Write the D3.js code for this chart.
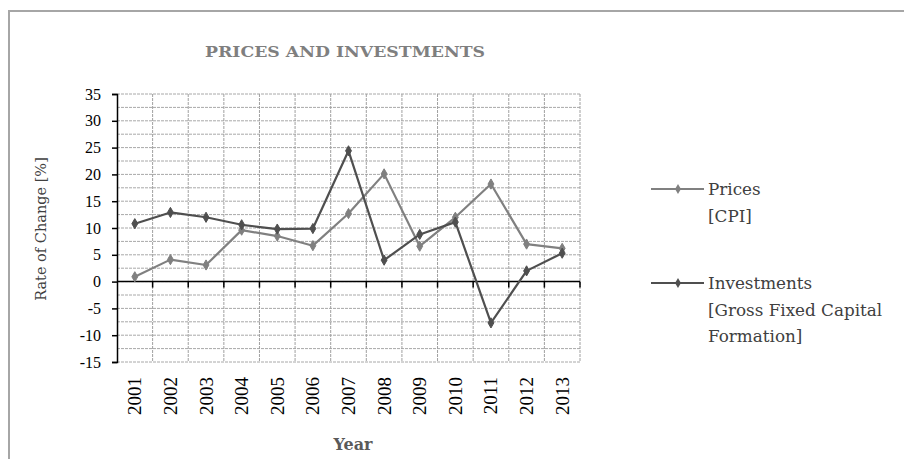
<!DOCTYPE html>
<html>
<head>
<meta charset="utf-8">
<script src="https://cdn.jsdelivr.net/npm/d3@7"></script>
<style>
  html, body { margin: 0; padding: 0; background: #fff; }
  svg { display: block; }
  text { font-family: "DejaVu Serif", "Liberation Serif", serif; }
  .num { font-family: "Liberation Serif", serif; }
</style>
</head>
<body>
<svg id="chart" width="904" height="459"></svg>
<script>
// Annual rates of change, 2001–2013
const years = ["2001","2002","2003","2004","2005","2006","2007","2008","2009","2010","2011","2012","2013"];
const prices = [0.9, 4.1, 3.1, 9.6, 8.5, 6.7, 12.7, 20.1, 6.6, 12.0, 18.2, 7.0, 6.2];
const investments = [10.8, 12.9, 12.0, 10.6, 9.8, 9.9, 24.4, 4.0, 8.8, 11.1, -7.7, 2.0, 5.3];
const yTicks = [-15, -10, -5, 0, 5, 10, 15, 20, 25, 30, 35];
const yMinor = [-12.5, -7.5, -2.5, 2.5, 7.5, 12.5, 17.5, 22.5, 27.5, 32.5];

const seriesList = [
  { name: "Prices", sub: ["[CPI]"], values: prices, color: "#808080" },
  { name: "Investments", sub: ["[Gross Fixed Capital", "Formation]"], values: investments, color: "#4f4f4f" }
];

const svg = d3.select("#chart");

// outer frame
svg.append("path")
  .attr("d", "M9,459 V11 H904")
  .attr("fill", "none")
  .attr("stroke", "#a6a6a6")
  .attr("stroke-width", 2);

const x = d3.scaleBand().domain(years).range([117, 580]).padding(0);
const y = d3.scaleLinear().domain([-15, 35]).range([362, 94]);
const bounds = years.map(d => x(d) + x.bandwidth());

// gridlines
const grid = svg.append("g");
grid.selectAll("line.h")
  .data(yTicks.concat(yMinor))
  .join("line")
  .attr("x1", 117).attr("x2", 580)
  .attr("y1", d => y(d)).attr("y2", d => y(d))
  .attr("stroke", "#a8a8a8")
  .attr("stroke-width", 1)
  .attr("stroke-dasharray", "3,1");
grid.selectAll("line.v")
  .data(bounds)
  .join("line")
  .attr("x1", d => d).attr("x2", d => d)
  .attr("y1", y(35)).attr("y2", y(-15))
  .attr("stroke", "#a0a0a0")
  .attr("stroke-width", 1)
  .attr("stroke-dasharray", "3,1");

// y axis
const yAxis = svg.append("g")
  .attr("transform", "translate(117,0)")
  .call(d3.axisLeft(y).tickValues(yTicks).tickSize(5).tickPadding(11).tickFormat(d => String(d)));
yAxis.select(".domain").attr("stroke", "#000").attr("stroke-width", 1.5);
yAxis.selectAll(".tick line").attr("stroke", "#000").attr("stroke-width", 1.5);
yAxis.selectAll(".tick text")
  .attr("class", "num")
  .attr("font-size", 16)
  .attr("font-family", null)
  .attr("fill", "#000");

// zero line with category tick marks
const zero = svg.append("g").attr("transform", `translate(0,${y(0)})`);
zero.append("line")
  .attr("x1", 117).attr("x2", 580)
  .attr("stroke", "#000").attr("stroke-width", 1.5);
zero.selectAll("line.t")
  .data(bounds)
  .join("line")
  .attr("x1", d => d).attr("x2", d => d)
  .attr("y1", 0).attr("y2", 6)
  .attr("stroke", "#000").attr("stroke-width", 1.5);

// year labels, rotated
svg.append("g").selectAll("text")
  .data(years)
  .join("text")
  .attr("class", "num")
  .attr("transform", d => `translate(${x(d) + x.bandwidth() / 2 + 6.5},377) rotate(-90)`)
  .attr("text-anchor", "end")
  .attr("font-size", 19)
  .attr("fill", "#000")
  .text(d => d);

// lines and markers
const line = d3.line()
  .x((d, i) => x(years[i]) + x.bandwidth() / 2)
  .y(d => y(d));

const diamond = d3.symbol().type(d3.symbolDiamond).size(30);

seriesList.forEach(s => {
  const g = svg.append("g");
  g.append("path")
    .datum(s.values)
    .attr("d", line)
    .attr("fill", "none")
    .attr("stroke", s.color)
    .attr("stroke-width", 2.2)
    .attr("stroke-linejoin", "round");
  g.selectAll("path.m")
    .data(s.values)
    .join("path")
    .attr("class", "m")
    .attr("d", diamond)
    .attr("transform", (d, i) => `translate(${x(years[i]) + x.bandwidth() / 2},${y(d)})`)
    .attr("fill", s.color)
    .attr("stroke", s.color)
    .attr("stroke-width", 1);
});

// title
svg.append("text")
  .attr("x", 345).attr("y", 57)
  .attr("text-anchor", "middle")
  .attr("font-size", 14)
  .attr("font-weight", "bold")
  .attr("fill", "#7f7f7f")
  .attr("textLength", 280)
  .attr("lengthAdjust", "spacingAndGlyphs")
  .text("PRICES AND INVESTMENTS");

// axis titles
svg.append("text")
  .attr("transform", "translate(46,229) rotate(-90)")
  .attr("text-anchor", "middle")
  .attr("font-size", 14.5)
  .attr("fill", "#404040")
  .text("Rate of Change [%]");

svg.append("text")
  .attr("x", 353).attr("y", 450)
  .attr("text-anchor", "middle")
  .attr("font-size", 16)
  .attr("font-weight", "bold")
  .attr("fill", "#595959")
  .text("Year");

// legend
const legendY = [189, 283];
seriesList.forEach((s, i) => {
  const g = svg.append("g").attr("transform", `translate(0,${legendY[i]})`);
  g.append("line")
    .attr("x1", 651).attr("x2", 704)
    .attr("stroke", s.color).attr("stroke-width", 2);
  g.append("path")
    .attr("d", diamond)
    .attr("transform", "translate(678,0)")
    .attr("fill", s.color);
  const t = g.append("text")
    .attr("x", 708).attr("y", 6)
    .attr("font-size", 16.8)
    .attr("fill", "#404040");
  [s.name].concat(s.sub).forEach((ln, k) => {
    t.append("tspan").attr("x", 708).attr("dy", k === 0 ? 0 : 26.5).text(ln);
  });
});
</script>
</body>
</html>
